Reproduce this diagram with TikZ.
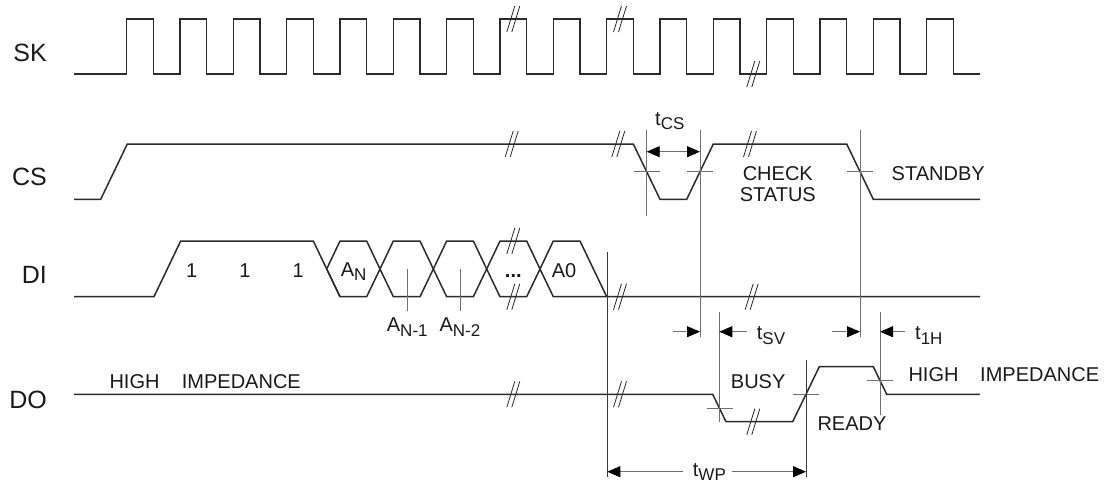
\documentclass[tikz,border=0pt]{standalone}
\usepackage{fontspec}
\setmainfont{Liberation Sans}
\usetikzlibrary{arrows.meta}
\definecolor{sigc}{HTML}{2B2B2B}
\definecolor{refc}{HTML}{707070}
\definecolor{refd}{HTML}{3A3A3A}
\definecolor{txtc}{HTML}{1A1A1A}
\newcommand\sbs[1]{\raisebox{-4.5pt}{\fontsize{17}{17}\selectfont #1}}
\tikzset{
  sig/.style={line width=1.5pt,draw=sigc},
  refl/.style={line width=0.8pt,draw=refc},
  refdark/.style={line width=0.8pt,draw=refd},
  tickl/.style={line width=0.8pt,draw=refc},
  dimarr/.style={line width=0.9pt,draw=refc,-{Triangle[length=13pt,width=11pt,color=black]}},
  dimboth/.style={line width=0.9pt,draw=refc,{Triangle[length=13pt,width=11pt,color=black]}-{Triangle[length=13pt,width=11pt,color=black]}},
  lab/.style={inner sep=0pt,text=txtc,font=\fontsize{20}{24}\selectfont},
  sname/.style={inner sep=0pt,text=txtc,font=\fontsize{25}{30}\selectfont,anchor=base east},
  brk/.pic={\draw[line width=0.8pt,draw=sigc] (-6.5,13)--(1.5,-13) (-1.5,13)--(6.5,-13);}
}
\begin{document}
\begin{tikzpicture}[x=1pt,y=-1pt]
\fill[white] (0,0) rectangle (1105,483);
\useasboundingbox (0,0) rectangle (1105,483);

% signal names
\node[sname] (lSK) at (47,61) {SK};
\node[sname] (lCS) at (47,185.3) {CS};
\node[sname] (lDI) at (47,283.3) {DI};
\node[sname] (lDO) at (47,408) {DO};

% SK
\draw[sig] (74,74) foreach \k in {0,...,15} { -- ({126.667+53.333*\k},74) -- ++(0,-55) -- ++(26.667,0) -- ++(0,55) } -- (980,74);
\pic at (513.3,19) {brk};
\pic at (620,19) {brk};
\pic at (753.3,74) {brk};

% CS
\draw[sig] (74,199.3) -- (100.7,199.3) -- (127.3,144) -- (633.3,144) -- (660,199.3) -- (686.7,199.3) -- (713.3,144) -- (846.7,144) -- (873.3,199.3) -- (980,199.3);
\pic at (511.7,144) {brk};
\pic at (618.3,144) {brk};
\pic at (750,144) {brk};

% DI
\draw[sig] (74,296.7) -- (154,296.7) -- (180.7,241) -- (313.3,241) -- (340,296.7);
\foreach \i in {0,...,3} {
  \draw[sig] ({326.667+53.333*\i},269) -- ++(13.333,-28) -- ++(26.667,0) -- ++(13.333,28) -- ++(-13.333,27.7) -- ++(-26.667,0) -- cycle;
}
\draw[sig] (540,269) -- (553.3,241) -- (580,241) -- (606.7,296.7);
\draw[sig] (540,269) -- (553.3,296.7) -- (980,296.7);
\pic at (513.3,241) {brk};
\pic at (513.3,296.7) {brk};
\pic at (620,296.7) {brk};
\pic at (751.7,296.7) {brk};

% DO
\draw[sig] (74,394.3) -- (712.7,394.3) -- (726,421.7) -- (792.7,421.7) -- (819.3,366.7) -- (873.3,366.7) -- (886.7,394.3) -- (980,394.3);
\pic at (513.3,394.3) {brk};
\pic at (620,394.3) {brk};
\pic at (753.3,421.7) {brk};

% crossing ticks
\draw[tickl] (633.7,171.7) -- (659.7,171.7);
\draw[tickl] (687,171.7) -- (713,171.7);
\draw[tickl] (847,171.7) -- (873,171.7);
\draw[tickl] (706.7,408) -- (732.7,408);
\draw[tickl] (793,394.3) -- (819,394.3);
\draw[tickl] (867,380.5) -- (893,380.5);

% reference verticals
\draw[refl] (646.7,130) -- (646.7,216);
\draw[refl] (700,130) -- (700,336.7);
\draw[refl] (860,130) -- (860,336.7);
\draw[refdark] (607.3,251.7) -- (607.3,476.7);
\draw[refl] (719.3,311.7) -- (719.3,421.7);
\draw[refdark] (806,360) -- (806,476.7);
\draw[refl] (880,311.7) -- (880,415);
\draw[refl] (407.3,269) -- (407.3,310.7);
\draw[refl] (460,269) -- (460,310.7);

% dimension arrows
\draw[dimboth] (646.7,151.7) -- (700,151.7);
\draw[dimarr] (673.3,331.7) -- (700,331.7);
\draw[dimarr] (746.7,331.7) -- (719.3,331.7);
\draw[dimarr] (831.7,331.7) -- (860,331.7);
\draw[dimarr] (905,331.7) -- (880,331.7);
\draw[dimarr] (683,471.7) -- (607.3,471.7);
\draw[dimarr] (731.7,471.7) -- (806,471.7);

% texts
\node[lab,anchor=base] (one1) at (191.7,277) {1};
\node[lab,anchor=base] (one2) at (245,277) {1};
\node[lab,anchor=base] (one3) at (298.3,277) {1};
\node[lab,anchor=base west] (an) at (340.7,276) {A\sbs{N}};
\node[lab,anchor=base west] (an1) at (386.7,331.7) {A\sbs{N-1}};
\node[lab,anchor=base west] (an2) at (439.3,331.7) {A\sbs{N-2}};
\node[lab,anchor=base] (dots) at (513.3,277) {\textbf{...}};
\node[lab,anchor=base] (a0) at (564,277) {A0};
\node[lab,anchor=base west] (hi1) at (109.3,388) {HIGH};
\node[lab,anchor=base west] (imp1) at (181.7,388) {IMPEDANCE};
\node[lab,anchor=base west] (tcs) at (655,125) {t\sbs{CS}};
\node[lab,anchor=base] (chk) at (777.8,180) {CHECK};
\node[lab,anchor=base] (sts) at (777.8,201) {STATUS};
\node[lab,anchor=base west] (stb) at (891.5,180) {STANDBY};
\node[lab,anchor=base west] (tsv) at (756.7,339.5) {t\sbs{SV}};
\node[lab,anchor=base west] (t1h) at (915,339.5) {t\sbs{1H}};
\node[lab,anchor=base west] (busy) at (730.7,388) {BUSY};
\node[lab,anchor=base west] (rdy) at (817.3,430) {READY};
\node[lab,anchor=base west] (hi2) at (908.3,381) {HIGH};
\node[lab,anchor=base west] (imp2) at (980,381) {IMPEDANCE};
\node[lab,anchor=base west] (twp) at (692.7,476) {t\sbs{WP}};
\end{tikzpicture}
\end{document}
